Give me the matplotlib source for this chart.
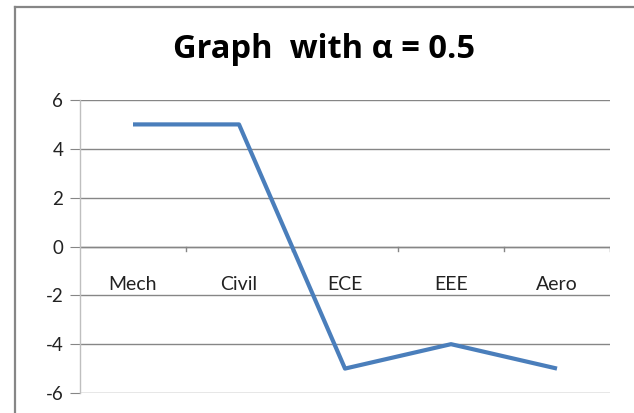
import matplotlib
matplotlib.use('Agg')
from matplotlib import pyplot as plt
from matplotlib.lines import Line2D

categories = ['Mech', 'Civil', 'ECE', 'EEE', 'Aero']
values = [5, 5, -5, -4, -5]
y_ticks = [-6, -4, -2, 0, 2, 4, 6]
title = 'Graph  with \u03b1 = 0.5'

W, H = 634, 413
fig = plt.figure(figsize=(W / 100, H / 100), dpi=100)
fig.patch.set_facecolor('white')

# chart frame (only top and left edges are visible)
fig.add_artist(Line2D([15 / W, 1], [1 - 7 / H, 1 - 7 / H], color='#868686', lw=1.6))
fig.add_artist(Line2D([15 / W, 15 / W], [0, 1 - 7 / H], color='#868686', lw=1.6))

ax = fig.add_axes([80 / W, 1 - 393 / H, 530 / W, 293 / H])
x = list(range(len(categories)))
ax.set_xlim(-0.5, len(categories) - 0.5)
ax.set_ylim(-6, 6)

ax.grid(axis='y', color='#868686', lw=1)
ax.set_axisbelow(True)
for s in ['top', 'right', 'bottom']:
    ax.spines[s].set_visible(False)
ax.spines['left'].set_color('#BFBFBF')
ax.spines['left'].set_linewidth(1)

ax.set_yticks(y_ticks)
ax.set_yticklabels([str(v) for v in y_ticks], fontsize=13.5, family='Lato', color='#222222')
ax.tick_params(axis='y', length=7, color='#868686', pad=5)

# category axis sits on y = 0
ax.set_xticks([])
ax.axhline(0, color='#868686', lw=1, zorder=1)
for b in [i + 0.5 for i in x]:
    ax.plot([b, b], [0, -0.2], color='#868686', lw=1, zorder=1)
for i, c in enumerate(categories):
    ax.text(i, -1.55, c, ha='center', va='center', fontsize=14, family='Lato', color='#222222')

ax.plot(x, values, color='#4A7EBB', lw=3, solid_joinstyle='round', solid_capstyle='butt', zorder=3)

fig.text(324 / W, 1 - 49 / H, title, ha='center', va='center',
         fontsize=23.5, fontweight='bold', family='Open Sans')

fig.savefig('out.png', dpi=100)
